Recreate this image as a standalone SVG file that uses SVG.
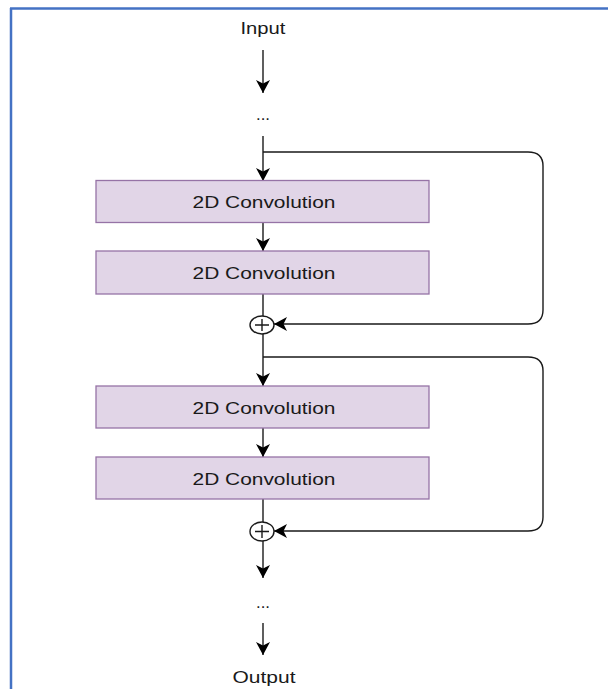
<svg xmlns="http://www.w3.org/2000/svg" width="608" height="689" viewBox="0 0 608 689">
<style>
.frame{stroke:#4472C4;stroke-width:2.5;fill:none}
.box{fill:#E1D5E7;stroke:#9673A6;stroke-width:1.3}
.lbl{font-family:"Liberation Sans",Arial,Helvetica,sans-serif;font-size:16.5px;fill:#1a1a1a;text-anchor:middle}
.edge{stroke:#1a1a1a;stroke-width:1.4;fill:none}
.arr{marker-end:url(#ah)}
.sum{fill:#fff;stroke:#1a1a1a;stroke-width:1.4}
</style>
<defs>
<marker id="ah" viewBox="0 0 13 14" refX="13" refY="7" markerWidth="13" markerHeight="14" markerUnits="userSpaceOnUse" orient="auto">
<path d="M0,0 L13,7 L0,14 L3.5,7 Z" fill="#000"/>
</marker>
</defs>
<rect width="608" height="689" fill="#fff"/>
<g id="frame">
<line class="frame" x1="10" y1="8.5" x2="608" y2="8.5"/>
<line class="frame" x1="11" y1="8" x2="11" y2="689"/>
</g>
<g id="connectors">
<line class="edge arr" x1="263" y1="50" x2="263" y2="93"/>
<line class="edge arr" x1="263" y1="136" x2="263" y2="181"/>
<path class="edge arr" d="M263,152 H528 Q543,152 543,166 V310 Q543,324 528,324 H274"/>
<line class="edge arr" x1="263" y1="223" x2="263" y2="251"/>
<line class="edge" x1="263" y1="294" x2="263" y2="316"/>
<line class="edge arr" x1="263" y1="334" x2="263" y2="386"/>
<path class="edge arr" d="M263,357 H528 Q543,357 543,371 V517 Q543,531 528,531 H274"/>
<line class="edge arr" x1="263" y1="428" x2="263" y2="457"/>
<line class="edge" x1="263" y1="499" x2="263" y2="522"/>
<line class="edge arr" x1="263" y1="541" x2="263" y2="578"/>
<line class="edge arr" x1="263" y1="623" x2="263" y2="655"/>
</g>
<g id="input"><text class="lbl" x="263" y="34" textLength="45" lengthAdjust="spacingAndGlyphs">Input</text></g>
<g id="dots1"><text class="lbl" x="263" y="120" textLength="14" lengthAdjust="spacingAndGlyphs">...</text></g>
<g id="conv1"><rect class="box" x="96" y="180.5" width="333" height="42"/><text class="lbl" x="264" y="208" textLength="143" lengthAdjust="spacingAndGlyphs">2D Convolution</text></g>
<g id="conv2"><rect class="box" x="96" y="251" width="333" height="43"/><text class="lbl" x="264" y="279" textLength="143" lengthAdjust="spacingAndGlyphs">2D Convolution</text></g>
<g id="sum1"><ellipse class="sum" cx="262" cy="325" rx="12" ry="9"/><path class="edge" d="M255,325 H269 M262,319 V331"/></g>
<g id="conv3"><rect class="box" x="96" y="386" width="333" height="42"/><text class="lbl" x="264" y="413.5" textLength="143" lengthAdjust="spacingAndGlyphs">2D Convolution</text></g>
<g id="conv4"><rect class="box" x="96" y="457" width="333" height="42"/><text class="lbl" x="264" y="484.5" textLength="143" lengthAdjust="spacingAndGlyphs">2D Convolution</text></g>
<g id="sum2"><ellipse class="sum" cx="262" cy="531.5" rx="12" ry="9.5"/><path class="edge" d="M255,531.5 H269 M262,525 V538"/></g>
<g id="dots2"><text class="lbl" x="263" y="608" textLength="14" lengthAdjust="spacingAndGlyphs">...</text></g>
<g id="output"><text class="lbl" x="264" y="683" textLength="63" lengthAdjust="spacingAndGlyphs">Output</text></g>
</svg>
